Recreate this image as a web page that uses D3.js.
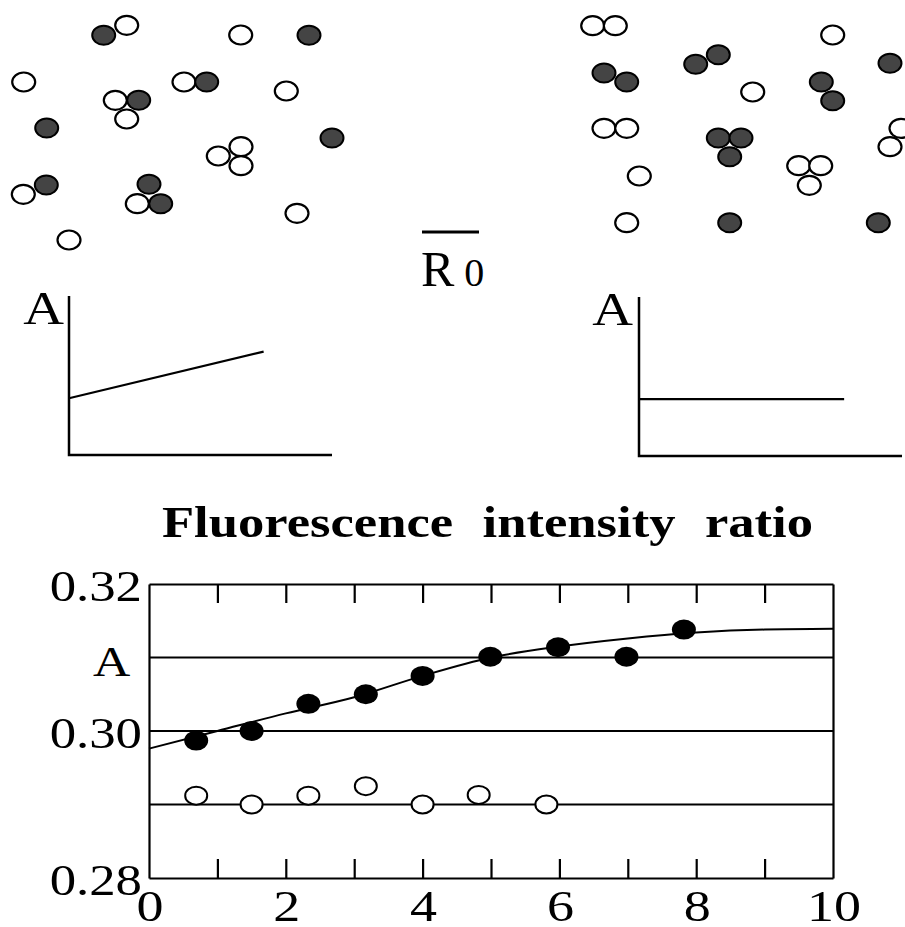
<!DOCTYPE html>
<html>
<head>
<meta charset="utf-8">
<script src="https://cdn.jsdelivr.net/npm/d3@7"></script>
<style>
  body { margin: 0; background: #fff; }
  svg { display: block; }
</style>
</head>
<body>
<div class="chart"></div>
<script>
// Fluorescence intensity ratio figure: two particle schematics, two sketch plots, one data plot

// ---- data ----
// top schematics, positions in panel units (1 unit = 10 px)
var leftFilled = [[10.37,3.53],[30.9,3.53],[20.67,8.2],[13.87,10.03],[4.67,12.8],[33.2,13.8],[4.63,18.5],[14.9,18.43],[16.07,20.37]];
var leftOpen = [[12.67,2.53],[24.07,3.5],[2.37,8.2],[18.4,8.2],[11.53,10.03],[28.63,9.1],[12.67,11.9],[24.1,14.67],[21.83,15.6],[24.1,16.57],[2.33,19.43],[13.73,20.37],[29.7,21.33],[6.9,24.0]];
var rightFilled = [[3.4,7.3],[5.67,8.2],[12.57,6.43],[14.83,5.47],[32.0,6.33],[25.13,8.2],[26.27,10.07],[14.83,13.8],[17.1,13.8],[15.97,15.67],[15.97,22.27],[30.83,22.27]];
var rightOpen = [[2.27,2.57],[4.53,2.57],[26.27,3.5],[18.27,9.2],[3.4,12.83],[5.67,12.83],[33.1,12.83],[32.0,14.67],[6.93,17.6],[22.87,16.57],[25.07,16.57],[23.93,18.53],[5.67,22.27]];

// sketch plots (fraction of axis length)
var sketchLeft = [[0, 0.357], [0.74, 0.65]];
var sketchRight = [[0, 0.358], [0.78, 0.358]];

// main plot
var filledX = [0.69, 1.5, 2.33, 3.17, 4.0, 4.99, 5.98, 6.98, 7.82];
var filledA = [0.2987, 0.3000, 0.3037, 0.3050, 0.3075, 0.3101, 0.3114, 0.3101, 0.3138];
var openX = [0.69, 1.5, 2.33, 3.17, 4.0, 4.82, 5.81];
var openA = [0.2912, 0.2900, 0.2912, 0.2925, 0.2900, 0.2913, 0.2900];
var fitX = [0, 1, 2, 3, 4, 5, 6, 7, 8, 9, 10];
var fitA = [0.2976, 0.3000, 0.3024, 0.3046, 0.3075, 0.3100, 0.3115, 0.3126, 0.3134, 0.3138, 0.3139];
var refLines = [0.31, 0.30, 0.29];
var yTickLabels = [0.28, 0.30, 0.32];
var xTickLabels = [0, 2, 4, 6, 8, 10];
var xMinorTicks = [1, 2, 3, 4, 5, 6, 7, 8, 9];

var serif = "'Liberation Serif', 'Times New Roman', serif";
var stretch = 1.2; // the original figure is widened horizontally

var svg = d3.select(".chart")
    .append("svg")
    .attr("width", 905)
    .attr("height", 927);

// ---- top schematics ----
function drawParticles(offsetX, filled, open) {
    var px = d3.scaleLinear().domain([0, 10]).range([offsetX, offsetX + 100]);
    var py = d3.scaleLinear().domain([0, 10]).range([0, 100]);
    var g = svg.append("g");
    g.selectAll(".open")
        .data(open)
        .enter().append("ellipse")
        .attr("cx", function(d) { return px(d[0]); })
        .attr("cy", function(d) { return py(d[1]); })
        .attr("rx", 11.5)
        .attr("ry", 9.5)
        .attr("fill", "#fff")
        .attr("stroke", "#000")
        .attr("stroke-width", 2.2);
    g.selectAll(".filled")
        .data(filled)
        .enter().append("ellipse")
        .attr("cx", function(d) { return px(d[0]); })
        .attr("cy", function(d) { return py(d[1]); })
        .attr("rx", 11.5)
        .attr("ry", 9.5)
        .attr("fill", "#444")
        .attr("stroke", "#000")
        .attr("stroke-width", 2);
}
drawParticles(0, leftFilled, leftOpen);
drawParticles(570, rightFilled, rightOpen);

// R0 label with overbar
svg.append("line")
    .attr("x1", 422).attr("x2", 479)
    .attr("y1", 232).attr("y2", 232)
    .attr("stroke", "#000")
    .attr("stroke-width", 3);
var r0 = svg.append("text")
    .attr("x", 421)
    .attr("y", 286)
    .style("font-family", serif)
    .style("font-size", "50px");
r0.append("tspan").text("R");
r0.append("tspan").attr("dx", 10).style("font-size", "40px").text("0");

// ---- sketch plots ----
function drawSketch(x0, x1, yTop, yBottom, pts, labelX, labelY) {
    var sx = d3.scaleLinear().domain([0, 1]).range([x0, x1]);
    var sy = d3.scaleLinear().domain([0, 1]).range([yBottom, yTop]);
    var g = svg.append("g");
    g.append("path")
        .attr("d", d3.line()([[sx(0), sy(1)], [sx(0), sy(0)], [sx(1), sy(0)]]))
        .attr("fill", "none")
        .attr("stroke", "#000")
        .attr("stroke-width", 2.5);
    g.append("path")
        .attr("d", d3.line()
            .x(function(d) { return sx(d[0]); })
            .y(function(d) { return sy(d[1]); })(pts))
        .attr("fill", "none")
        .attr("stroke", "#000")
        .attr("stroke-width", 2.2);
    g.append("text")
        .attr("transform", "translate(" + labelX + "," + labelY + ") scale(" + stretch + ",1)")
        .attr("text-anchor", "middle")
        .style("font-family", serif)
        .style("font-size", "47px")
        .text("A");
}
drawSketch(69, 332, 296, 455, sketchLeft, 43.5, 324);
drawSketch(639, 902, 297, 456, sketchRight, 612.5, 325);

// ---- title ----
svg.append("text")
    .attr("x", 162)
    .attr("y", 537)
    .attr("textLength", 651)
    .attr("lengthAdjust", "spacingAndGlyphs")
    .style("font-family", serif)
    .style("font-weight", "bold")
    .style("font-size", "45px")
    .style("word-spacing", "14px")
    .text("Fluorescence intensity ratio");

// ---- main plot ----
var plotLeft = 149, plotRight = 833, plotTop = 584, plotBottom = 878;
var xScale = d3.scaleLinear().domain([0, 10]).range([plotLeft, plotRight]);
var yScale = d3.scaleLinear().domain([0.28, 0.32]).range([plotBottom, plotTop]);

var plot = svg.append("g");

// frame with inward ticks on top and bottom
plot.append("g")
    .attr("transform", "translate(0," + plotBottom + ")")
    .call(d3.axisBottom(xScale).tickValues(xMinorTicks).tickSize(-19).tickSizeOuter(0).tickFormat(""));
plot.append("g")
    .attr("transform", "translate(0," + plotTop + ")")
    .call(d3.axisTop(xScale).tickValues(xMinorTicks).tickSize(-19).tickSizeOuter(0).tickFormat(""));
plot.append("g")
    .attr("transform", "translate(" + plotLeft + ",0)")
    .call(d3.axisLeft(yScale).tickValues([]).tickSizeOuter(0));
plot.append("g")
    .attr("transform", "translate(" + plotRight + ",0)")
    .call(d3.axisRight(yScale).tickValues([]).tickSizeOuter(0));
plot.selectAll(".domain, .tick line")
    .attr("stroke", "#000")
    .attr("stroke-width", 2.2);

// horizontal reference lines
plot.selectAll(".ref")
    .data(refLines)
    .enter().append("line")
    .attr("class", "ref")
    .attr("x1", plotLeft)
    .attr("x2", plotRight)
    .attr("y1", function(d) { return yScale(d); })
    .attr("y2", function(d) { return yScale(d); })
    .attr("stroke", "#000")
    .attr("stroke-width", 2.2);

// fitted curve
var fit = fitX.map(function(x, i) { return [x, fitA[i]]; });
plot.append("path")
    .attr("d", d3.line()
        .x(function(d) { return xScale(d[0]); })
        .y(function(d) { return yScale(d[1]); })
        .curve(d3.curveMonotoneX)(fit))
    .attr("fill", "none")
    .attr("stroke", "#000")
    .attr("stroke-width", 2);

// data points
plot.selectAll(".dot-open")
    .data(openX.map(function(x, i) { return [x, openA[i]]; }))
    .enter().append("ellipse")
    .attr("cx", function(d) { return xScale(d[0]); })
    .attr("cy", function(d) { return yScale(d[1]); })
    .attr("rx", 11)
    .attr("ry", 9)
    .attr("fill", "#fff")
    .attr("stroke", "#000")
    .attr("stroke-width", 2);
plot.selectAll(".dot-filled")
    .data(filledX.map(function(x, i) { return [x, filledA[i]]; }))
    .enter().append("ellipse")
    .attr("cx", function(d) { return xScale(d[0]); })
    .attr("cy", function(d) { return yScale(d[1]); })
    .attr("rx", 12)
    .attr("ry", 10)
    .attr("fill", "#000");

// tick labels
plot.selectAll(".ylab")
    .data(yTickLabels)
    .enter().append("text")
    .attr("transform", function(d) { return "translate(142," + (yScale(d) + 17) + ") scale(" + stretch + ",1)"; })
    .attr("text-anchor", "end")
    .style("font-family", serif)
    .style("font-size", "44px")
    .text(function(d) { return d.toFixed(2); });
plot.selectAll(".xlab")
    .data(xTickLabels)
    .enter().append("text")
    .attr("transform", function(d) { return "translate(" + (xScale(d) + 1) + ",921) scale(" + stretch + ",1)"; })
    .attr("text-anchor", "middle")
    .style("font-family", serif)
    .style("font-size", "45px")
    .text(function(d) { return d; });

// "A" label on the 0.31 line
plot.append("text")
    .attr("transform", "translate(111.5," + (yScale(0.31) + 18) + ") scale(" + stretch + ",1)")
    .attr("text-anchor", "middle")
    .style("font-family", serif)
    .style("font-size", "43px")
    .text("A");
</script>
</body>
</html>
